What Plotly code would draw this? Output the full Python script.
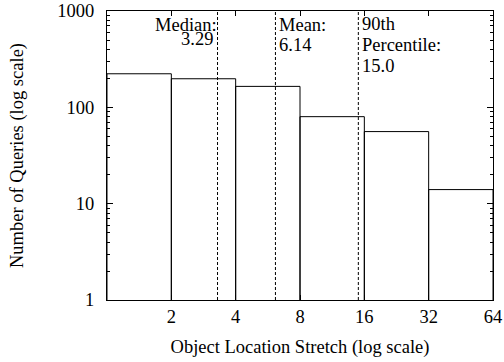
import numpy as np
import plotly.graph_objects as go

# ---- data ----
bin_edges = [1, 2, 4, 8, 16, 32, 64]
query_counts = [223, 198, 165, 80, 56, 14]
stat_names = ["Median", "Mean", "90th Percentile"]
stat_values = [3.29, 6.14, 15.0]
x_tick_vals = [2, 4, 8, 16, 32, 64]
x_tick_text = ["2", "4", "8", "16", "32", "64"]
y_tick_vals = [1, 10, 100, 1000]
y_tick_text = ["1", "10", "100", "1000"]

FONT = "Liberation Serif"
FS = 18.5
W, H = 504, 362
ML, MR, MT, MB = 107, 11, 11, 62
PH = H - MT - MB

def py(pix):
    # pixel row -> paper coordinate
    return (H - MB - pix) / PH

fig = go.Figure()

# histogram bar outlines
bx, by = [], []
for i, c in enumerate(query_counts):
    lo, hi = bin_edges[i], bin_edges[i + 1]
    bx += [lo, lo, hi, hi, None]
    by += [1, c, c, 1, None]
fig.add_trace(go.Scatter(x=bx, y=by, mode="lines",
                         line=dict(color="black", width=1),
                         hoverinfo="skip", showlegend=False))

# dashed statistic lines
for v in stat_values:
    fig.add_trace(go.Scatter(x=[v, v], y=[1, 1000], mode="lines",
                             line=dict(color="black", width=1, dash="3px,2px"),
                             hoverinfo="skip", showlegend=False))

ann_font = dict(family=FONT, size=FS, color="black")
anns = [
    # text, value index, xanchor, xshift, baseline pixel
    ("Median:", 0, "right", 1, 31),
    ("3.29", 0, "right", -3, 45),
    ("Mean:", 1, "left", 2, 31),
    ("6.14", 1, "left", 2, 51),
    ("90th", 2, "left", 2, 30),
    ("Percentile:", 2, "left", 2, 51),
    ("15.0", 2, "left", 2, 72),
]
for txt, idx, xa, xs, base in anns:
    fig.add_annotation(text=txt, x=np.log10(stat_values[idx]), xref="x",
                       y=py(base - 6.3), yref="paper", xanchor=xa,
                       yanchor="middle", xshift=xs, showarrow=False,
                       font=ann_font)

axis_common = dict(showline=True, linecolor="black", linewidth=1,
                   mirror="allticks", ticks="inside", tickcolor="black",
                   showgrid=False, zeroline=False,
                   tickfont=dict(family=FONT, size=FS, color="black"))

fig.update_xaxes(type="log", range=[np.log10(bin_edges[0]), np.log10(bin_edges[-1])],
                 tickvals=x_tick_vals, ticktext=x_tick_text, ticklen=5,
                 title=dict(text="Object Location Stretch (log scale)",
                            font=dict(family=FONT, size=FS, color="black"),
                            standoff=13),
                 **axis_common)
fig.update_yaxes(type="log", range=[0, 3],
                 tickvals=y_tick_vals, ticktext=y_tick_text, ticklen=6,
                 ticklabelstandoff=8,
                 minor=dict(ticks="inside", ticklen=3, tickcolor="black",
                            dtick="D1", showgrid=False),
                 title=dict(text="Number of Queries (log scale)",
                            font=dict(family=FONT, size=FS, color="black"),
                            standoff=28),
                 **axis_common)

fig.update_layout(width=W, height=H,
                  font=dict(family=FONT, size=FS, color="black"),
                  margin=dict(l=ML, r=MR, t=MT, b=MB, autoexpand=False),
                  paper_bgcolor="white", plot_bgcolor="white",
                  showlegend=False)

fig.write_html("out.html")
